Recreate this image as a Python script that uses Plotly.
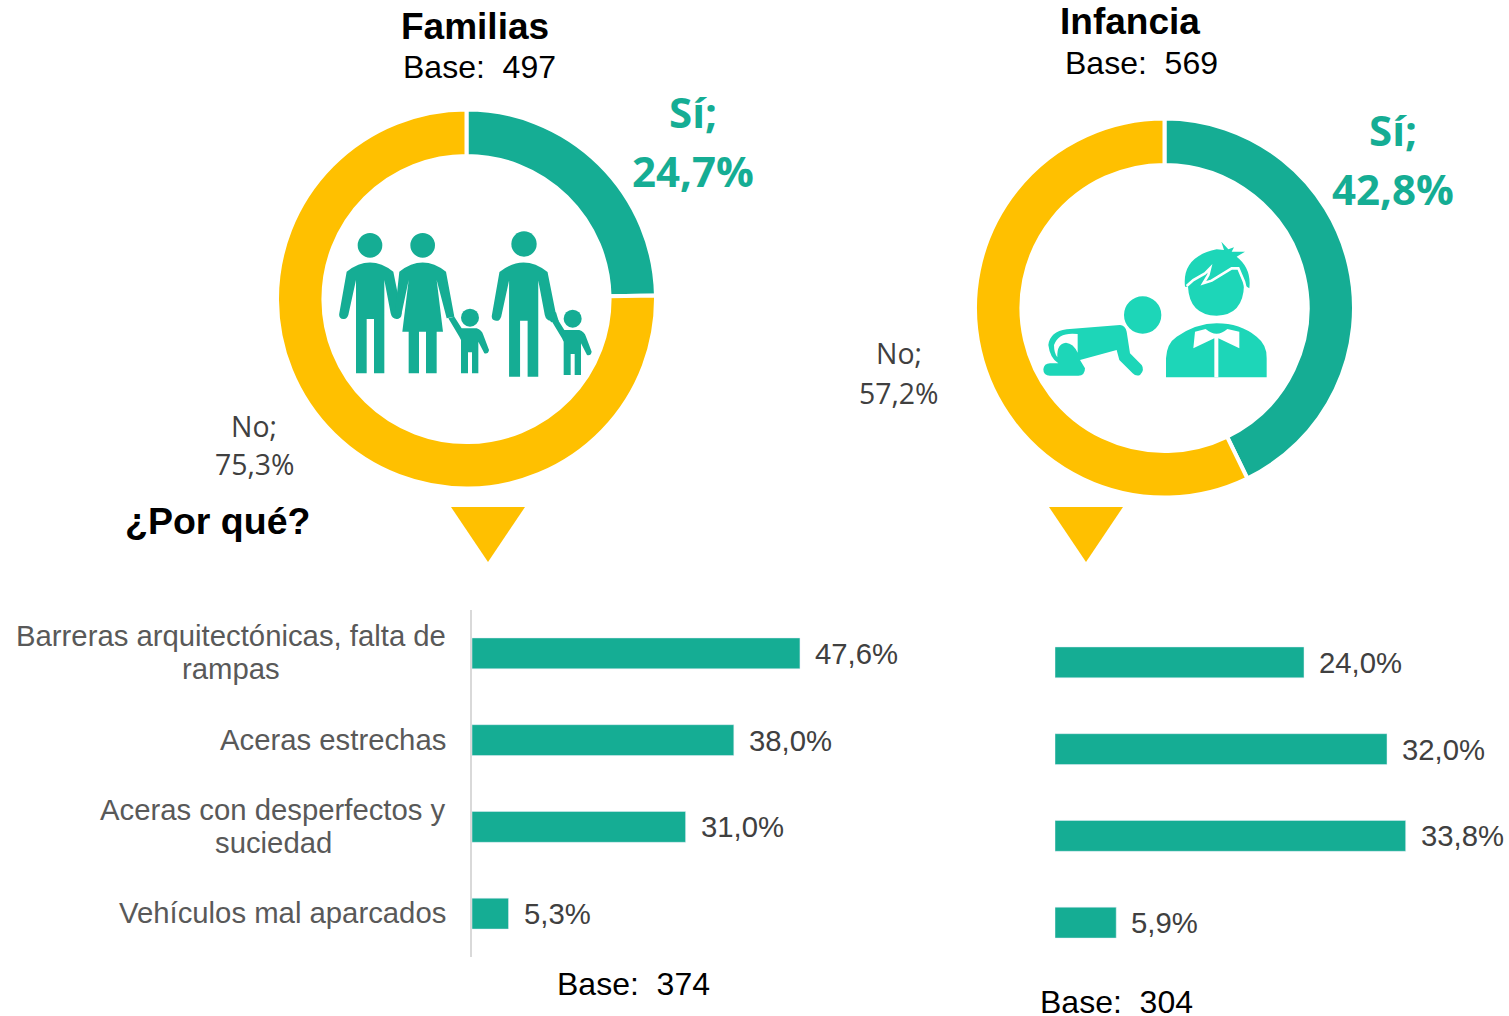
import plotly.graph_objects as go

W, H = 1509, 1016
TEAL = "#15AD94"
GOLD = "#FFC000"
MINT = "#1DD6B8"

donut_labels = ["Sí", "No"]
familias_donut = [24.7, 75.3]
infancia_donut = [42.8, 57.2]
reasons = ["Barreras arquitectónicas, falta de<br>rampas", "Aceras estrechas",
           "Aceras con desperfectos y<br>suciedad", "Vehículos mal aparcados"]
familias_reasons = [47.6, 38.0, 31.0, 5.3]
infancia_reasons = [24.0, 32.0, 33.8, 5.9]


def fx(v):
    return v / W


def fy(v):
    return 1 - v / H


def es(v):
    return f"{v:.1f}".replace(".", ",") + "%"


def donut(vals, cx, cy, r):
    return go.Pie(labels=donut_labels, values=vals, sort=False, direction="clockwise", rotation=0,
                  hole=0.755, textinfo="none", showlegend=False, hoverinfo="label+percent",
                  marker=dict(colors=[TEAL, GOLD], line=dict(color="white", width=4)),
                  domain=dict(x=[fx(cx - r), fx(cx + r)], y=[fy(cy + r), fy(cy - r)]))


fig = go.Figure()
fig.add_trace(donut(familias_donut, 466.5, 299, 189.5))
fig.add_trace(donut(infancia_donut, 1164.5, 308, 189.5))
BAR_H = dict(orientation="h", marker_color=TEAL, width=0.356, hoverinfo="x+y", showlegend=False)
fig.add_trace(go.Bar(x=familias_reasons, y=reasons, xaxis="x", yaxis="y", **BAR_H))
fig.add_trace(go.Bar(x=infancia_reasons, y=reasons, xaxis="x2", yaxis="y2", **BAR_H))

annotations = []


def txt(s, x, y, size, color="#000000", bold=False, family="Liberation Sans"):
    annotations.append(dict(text=f"<b>{s}</b>" if bold else s, x=fx(x), y=fy(y), xref="paper", yref="paper",
                            xanchor="center", yanchor="middle", showarrow=False,
                            font=dict(size=size, color=color, family=family)))


NB = "\u00a0"
txt("Familias", 475, 27, 37, bold=True)
txt(f"Base:{NB}{NB}497", 479, 67, 32)
txt("Infancia", 1130, 22, 37, bold=True)
txt(f"Base:{NB}{NB}569", 1141.5, 63, 32)
txt("¿Por qué?", 217.5, 521, 37.5, bold=True)
txt(f"Base:{NB}{NB}374", 633, 984, 32)
txt(f"Base:{NB}{NB}304", 1116.5, 1002, 32)
txt("Sí;", 693, 111, 42, TEAL, True, "Open Sans")
txt(es(familias_donut[0]), 693, 170, 42, TEAL, True, "Open Sans")
txt("Sí;", 1393, 129, 42, TEAL, True, "Open Sans")
txt(es(infancia_donut[0]), 1393, 188, 42, TEAL, True, "Open Sans")
txt("No;", 254, 425.5, 28.4, "#404040", False, "Open Sans")
txt(es(familias_donut[1]), 255, 464.5, 28.4, "#404040", False, "Open Sans")
txt("No;", 899, 353.5, 28.4, "#404040", False, "Open Sans")
txt(es(infancia_donut[1]), 899, 392.5, 28.4, "#404040", False, "Open Sans")

# second lines of the wrapped labels are centred under the first line
second_line_shift = {"rampas": -166, "suciedad": -114.5}
for r in reasons:
    lines = r.split("<br>")
    offsets = [16.5, -16.5] if len(lines) == 2 else [0]
    for line, off in zip(lines, offsets):
        annotations.append(dict(text=line, x=fx(448), xref="paper", y=r, yref="y", xanchor="right",
                                yanchor="middle", showarrow=False, yshift=off + 1,
                                xshift=second_line_shift.get(line, 0),
                                font=dict(size=29.3, color="#595959", family="Liberation Sans")))
for xa, ya, vals in (("x", "y", familias_reasons), ("x2", "y2", infancia_reasons)):
    for r, v in zip(reasons, vals):
        annotations.append(dict(text=es(v), x=v, xref=xa, y=r, yref=ya, xanchor="left", yanchor="middle",
                                showarrow=False, xshift=13, yshift=0,
                                font=dict(size=29.3, color="#404040", family="Liberation Sans")))

shapes = []


def path_px(cmds, ox, oy, sx=1.0, sy=None, dx=0, dy=0):
    """cmds: list of (letter, x, y, ...) in zoom-crop coordinates."""
    sy = sy if sy is not None else sx
    out = []
    for c in cmds:
        if c[0] == "Z":
            out.append("Z")
            continue
        nums = c[1:]
        pts = []
        for i in range(0, len(nums), 2):
            px_ = ox + (nums[i] * sx + dx) / 3
            py_ = oy + (nums[i + 1] * sy + dy) / 3
            pts.append(f"{fx(px_):.5f},{fy(py_):.5f}")
        out.append(c[0] + " ".join(pts))
    return " ".join(out)


def add_path(cmds, fill, ox, oy, line=None, lw=0, **k):
    shapes.append(dict(type="path", xref="paper", yref="paper", path=path_px(cmds, ox, oy, **k),
                       fillcolor=fill, line=dict(color=line or "rgba(0,0,0,0)", width=lw)))


def add_circle(cx, cy, r, fill):
    shapes.append(dict(type="circle", xref="paper", yref="paper", x0=fx(cx - r), x1=fx(cx + r),
                       y0=fy(cy + r), y1=fy(cy - r), fillcolor=fill, line=dict(width=0)))


# triangles
for x0, x1, xm in ((451, 525, 488), (1049, 1123, 1086)):
    shapes.append(dict(type="path", xref="paper", yref="paper", fillcolor=GOLD, line=dict(width=0),
                       path=f"M{fx(x0)},{fy(507)} L{fx(x1)},{fy(507)} L{fx(xm)},{fy(562)} Z"))

# family icon
OX, OY = 320, 215
man = [("M", 80, 170), ("Q", 150, 115, 220, 170), ("L", 245, 295), ("Q", 245, 312, 230, 312),
       ("Q", 216, 312, 212, 295), ("L", 193, 195), ("L", 193, 475), ("L", 162, 475), ("L", 162, 312),
       ("L", 140, 312), ("L", 140, 475), ("L", 108, 475), ("L", 108, 195), ("L", 85, 300),
       ("Q", 80, 314, 70, 312), ("Q", 55, 310, 58, 295), ("Z",)]
woman = [("M", 238, 170), ("Q", 308, 115, 378, 170), ("L", 403, 305), ("L", 380, 310), ("L", 350, 195),
         ("L", 369, 350), ("L", 350, 350), ("L", 350, 475), ("L", 318, 475), ("L", 318, 350), ("L", 297, 350),
         ("L", 297, 475), ("L", 266, 475), ("L", 266, 350), ("L", 247, 350), ("L", 266, 195), ("L", 245, 295),
         ("Q", 240, 312, 230, 312), ("L", 225, 290), ("Z",)]
child = [("M", 425, 340), ("L", 470, 340), ("Q", 485, 345, 490, 360), ("L", 507, 405), ("Q", 505, 418, 493, 415),
         ("L", 475, 380), ("L", 475, 475), ("L", 456, 475), ("L", 456, 412), ("L", 444, 412), ("L", 444, 475),
         ("L", 423, 475), ("L", 423, 375), ("L", 418, 365), ("L", 385, 310), ("L", 403, 305), ("Z",)]
add_path(man, TEAL, OX, OY)
add_path(woman, TEAL, OX, OY)
add_path(child, TEAL, OX, OY)
add_path(man, TEAL, OX, OY, sx=1.03, sy=1.03, dx=456, dy=-4)
add_path([("M", 680, 295), ("L", 708, 292), ("L", 716, 318), ("L", 693, 322), ("Z",)], TEAL, OX, OY)
add_path(child, TEAL, OX, OY, dx=308, dy=5)
for cx, cy, r in ((150, 91, 37), (308, 91, 37), (450, 308, 27), (612, 87, 38), (758, 311, 27)):
    add_circle(OX + cx / 3, OY + cy / 3, r / 3, TEAL)

# children icon
OX2, OY2 = 1030, 230
add_circle(OX2 + 338 / 3, OY2 + 255 / 3, 56 / 3, MINT)
baby = [("M", 55, 345), ("Q", 60, 305, 110, 298), ("L", 270, 285), ("Q", 285, 285, 290, 305), ("L", 300, 370),
        ("L", 335, 405), ("Q", 345, 420, 330, 435), ("Q", 318, 440, 308, 430), ("L", 268, 390), ("L", 260, 360),
        ("L", 150, 390), ("L", 165, 415), ("Q", 165, 437, 145, 437), ("L", 60, 437), ("Q", 40, 437, 40, 418),
        ("Q", 42, 400, 60, 400), ("L", 85, 400), ("Q", 60, 385, 55, 345), ("Z",)]
add_path(baby, MINT, OX2, OY2)
add_path([("M", 143, 312), ("Q", 85, 305, 72, 345), ("Q", 72, 368, 82, 382), ("Q", 80, 340, 108, 338),
          ("Q", 130, 340, 143, 368), ("Z",)], "white", OX2, OY2)
head = [("M", 465, 170), ("Q", 455, 80, 560, 58), ("L", 582, 60), ("L", 574, 35), ("L", 595, 58), ("L", 612, 52),
        ("L", 605, 65), ("L", 645, 65), ("L", 620, 80), ("Q", 665, 115, 658, 175), ("L", 642, 165),
        ("Q", 640, 255, 560, 257), ("Q", 478, 255, 474, 170), ("Z",)]
hair_gap = [("M", 470, 168), ("L", 490, 150), ("L", 525, 130), ("L", 540, 115), ("L", 535, 135), ("L", 520, 160),
            ("L", 545, 152), ("L", 605, 115), ("L", 625, 115), ("L", 642, 155), ("L", 648, 180)]
torso = [("M", 408, 385), ("Q", 410, 340, 440, 320), ("Q", 500, 280, 560, 280), ("Q", 630, 280, 680, 320),
         ("Q", 712, 345, 710, 385), ("L", 710, 442), ("L", 408, 442), ("Z",)]
bow = [("M", 495, 305), ("L", 527, 297), ("Q", 560, 325, 592, 297), ("L", 628, 305), ("L", 628, 355), ("L", 565, 325),
       ("L", 565, 442), ("L", 553, 442), ("L", 553, 325), ("L", 490, 355), ("Z",)]
add_path(head, MINT, OX2, OY2)
add_path(hair_gap, "rgba(0,0,0,0)", OX2, OY2, line="white", lw=2.6)
add_path(torso, MINT, OX2, OY2)
add_path(bow, "white", OX2, OY2)

bar_axis = dict(visible=False, fixedrange=True)
cat_axis = dict(autorange="reversed", showticklabels=False, ticks="", showgrid=False, zeroline=False,
                categoryorder="array", categoryarray=reasons)
fig.update_layout(
    width=W, height=H, margin=dict(l=0, r=0, t=0, b=0), paper_bgcolor="white", plot_bgcolor="white",
    bargap=0.644,
    xaxis=dict(domain=[fx(472), fx(472 + 413.4)], range=[0, 60], anchor="y", **bar_axis),
    yaxis=dict(domain=[fy(957), fy(610)], anchor="x", showline=True, linecolor="#D9D9D9", linewidth=2, **cat_axis),
    xaxis2=dict(domain=[fx(1055), fx(1055 + 415)], range=[0, 40], anchor="y2", **bar_axis),
    yaxis2=dict(domain=[fy(966), fy(619)], anchor="x2", showline=False, **cat_axis),
    annotations=annotations, shapes=shapes,
)
fig.write_html("out.html", config=dict(displayModeBar=False), post_script="document.body.style.margin='0';")
